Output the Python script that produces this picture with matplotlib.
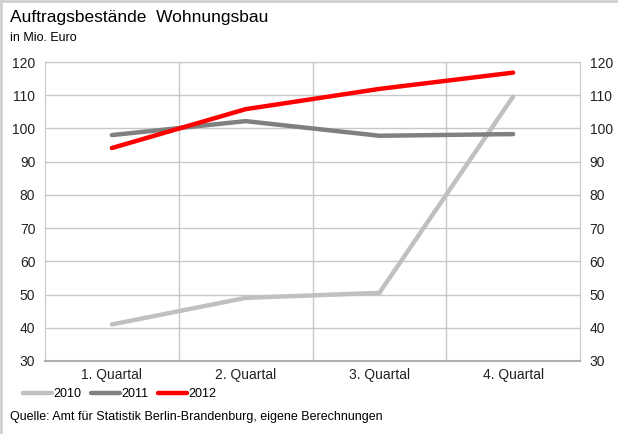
import matplotlib.pyplot as plt
from matplotlib.lines import Line2D

plt.rcParams['font.family'] = ['Liberation Sans', 'DejaVu Sans']

quarters = ["1. Quartal", "2. Quartal", "3. Quartal", "4. Quartal"]
years = ["2010", "2011", "2012"]
values_2010 = [41.0, 49.0, 50.5, 109.6]
values_2011 = [98.0, 102.2, 97.8, 98.3]
values_2012 = [94.1, 105.8, 111.9, 116.8]
colors = ["#c0c0c0", "#808080", "#ff0000"]

fig = plt.figure(figsize=(6.18, 4.34), dpi=100)
ax = fig.add_axes([45 / 618, 1 - 361 / 434, 535 / 618, 299 / 434])

x = range(len(quarters))
for vals, label, c in zip([values_2010, values_2011, values_2012], years, colors):
    ax.plot(x, vals, color=c, lw=3.2, solid_capstyle="round", label=label, zorder=3)

ax.set_xlim(-0.5, 3.5)
ax.set_ylim(30, 120)
ax.set_yticks(range(30, 121, 10))
ax.set_xticks(list(x))
ax.set_xticklabels(quarters)
ax.set_xticks([0.5, 1.5, 2.5], minor=True)
ax.grid(axis="y", color="#c8c8c8", lw=1)
ax.grid(axis="x", which="minor", color="#c8c8c8", lw=1)
ax.tick_params(which="both", length=0, labelsize=10, colors="#222222")
ax.tick_params(axis="y", pad=7, labelright=True, right=False)
ax.tick_params(axis="x", pad=5)
for s in ax.spines.values():
    s.set_color("#c8c8c8")
ax.spines["bottom"].set_color("#b0b0b0")
ax.spines["bottom"].set_linewidth(1.5)

fig.text(10 / 618, 1 - 22 / 434, "Auftragsbestände  Wohnungsbau", fontsize=12.5, va="baseline")
fig.text(10 / 618, 1 - 41 / 434, "in Mio. Euro", fontsize=9, va="baseline")

ax.legend(loc="upper left", bbox_to_anchor=(18 / 618, 1 - 383 / 434), bbox_transform=fig.transFigure,
          ncol=3, frameon=False, fontsize=9, handlelength=2.3, handletextpad=0.1, columnspacing=0.8,
          borderaxespad=0)

fig.text(10 / 618, 1 - 420 / 434, "Quelle: Amt für Statistik Berlin-Brandenburg, eigene Berechnungen",
         fontsize=9, va="baseline")

# light frame along the top and left edge
for xs, ys in [([0, 1], [0.998, 0.998]), ([0.002, 0.002], [0, 1])]:
    fig.lines.append(Line2D(xs, ys, transform=fig.transFigure, color="#d0d0d0", lw=2))

fig.savefig("out.png", dpi=100)
